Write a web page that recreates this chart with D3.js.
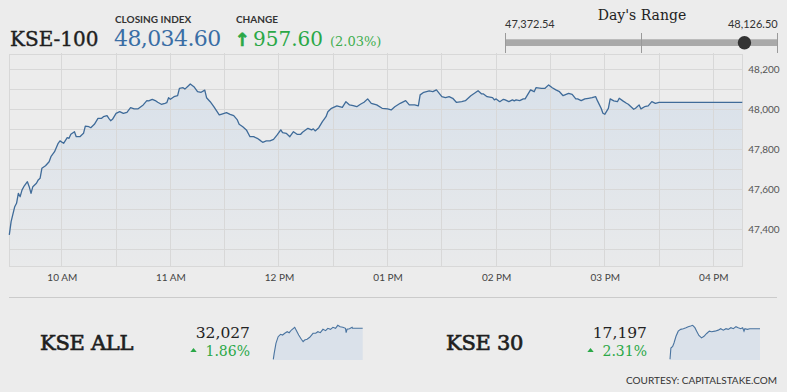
<!DOCTYPE html>
<html>
<head>
<meta charset="utf-8">
<script src="https://cdn.jsdelivr.net/npm/d3@7"></script>
<style>
	body { margin: 0; background: #ececec; }
	svg { display: block; font-family: Lato, "Open Sans", sans-serif; }
</style>
</head>
<body>
<svg width="787" height="392"></svg>
<script>
// KSE-100 intraday
const times = [
	"09:31","09:32","09:34","09:35","09:36","09:37","09:38","09:39","09:41","09:42","09:43","09:44","09:46","09:47","09:48","09:49","09:51","09:53","09:54","09:56","09:58","09:59",
	"10:01","10:03","10:04","10:05","10:07","10:08","10:10","10:12","10:13","10:15","10:16","10:18","10:20","10:22","10:23","10:25","10:26","10:27","10:28","10:30","10:32","10:34","10:36","10:38","10:40","10:42","10:45","10:47","10:48","10:50","10:52","10:53","10:55","10:57","10:58","10:59",
	"11:00","11:02","11:04","11:05","11:07","11:08","11:10","11:11","11:13","11:15","11:17","11:19","11:20","11:22","11:24","11:27","11:28","11:31","11:33","11:35","11:37","11:38","11:40","11:42","11:44","11:46","11:48","11:50","11:51","11:53","11:55","11:57","11:59",
	"12:01","12:02","12:04","12:06","12:08","12:10","12:12","12:13","12:16","12:18","12:19","12:20","12:22","12:24","12:26","12:27","12:29","12:32","12:35","12:37","12:39","12:41","12:43","12:45","12:47","12:49","12:51","12:54","12:57",
	"13:00","13:02","13:04","13:07","13:10","13:12","13:15","13:17","13:18","13:20","13:23","13:25","13:27","13:30","13:32","13:34","13:36","13:38","13:41","13:43","13:46","13:48","13:50","13:52","13:53","13:55","13:58","13:59",
	"14:00","14:02","14:04","14:05","14:07","14:09","14:10","14:11","14:13","14:15","14:16","14:19","14:21","14:22","14:25","14:27","14:29","14:31","14:33","14:35","14:37","14:38","14:40","14:42","14:44","14:45","14:47","14:49","14:51","14:53","14:55","14:56","14:58","14:59",
	"15:00","15:02","15:03","15:05","15:07","15:08","15:10","15:12","15:13","15:16","15:17","15:19","15:20","15:22","15:24","15:26","15:28","15:30","16:16"
];
const values = [
	47372.5,47438,47513,47530,47580,47563,47596,47613,47638,47613,47580,47613,47630,47647,47655,47705,47718,47738,47763,47788,47830,47842,
	47830,47858,47855,47875,47888,47863,47863,47880,47916,47913,47908,47925,47955,47955,47963,47968,47955,47943,47950,47980,47988,47980,47985,48008,48002,48002,48022,48043,48042,48050,48042,48035,48025,48030,48033,48058,
	48050,48063,48068,48105,48108,48101,48118,48126.5,48113,48088,48085,48096,48058,48038,48013,47972,47975,47983,47975,47968,47947,47925,47913,47897,47863,47863,47855,47842,47835,47842,47842,47850,47872,
	47897,47883,47880,47863,47888,47875,47875,47885,47905,47897,47902,47892,47908,47938,47963,47988,48005,48017,48010,48038,48022,48018,48013,48025,48035,48052,48030,48022,48005,
	48002,47997,48013,48030,48043,48022,48022,48017,48072,48085,48092,48088,48097,48063,48058,48063,48055,48035,48038,48043,48068,48080,48093,48077,48077,48063,48058,48047,
	48052,48038,48050,48047,48038,48047,48042,48047,48043,48052,48052,48097,48088,48108,48105,48105,48122,48108,48097,48088,48068,48072,48080,48075,48052,48052,48043,48052,48055,48058,48063,48042,48005,47980,
	47975,48005,48052,48042,48038,48055,48042,48030,48025,48000,48005,48022,48002,48013,48017,48038,48030,48034.6,48034.6
];

const timeDomain = ["09:31", "16:16"];
const valueDomain = [47216.5, 48276.5];
const hourTicks = ["10:00","11:00","12:00","13:00","14:00","15:00","16:00"];
const hourLabels = ["10 AM","11 AM","12 PM","01 PM","02 PM","03 PM","04 PM"];
const yTicks = [47400, 47600, 47800, 48000, 48200];

const closingIndex = 48034.60;
const change = 957.60;
const changePct = 2.03;
const dayLow = 47372.54;
const dayHigh = 48126.50;

// small indices with sparklines
const allTimes = ["09:31","09:35","09:43","09:53","10:04","10:13","10:23","10:34","10:43","10:53","11:08","11:16","11:26","11:38","11:46","11:53","12:04","12:16","12:31","12:43","12:53","13:04","13:16","13:28","13:38","13:50","14:01","14:13","14:23","14:34","14:46","14:58","15:01","15:05","15:16","15:28","15:30","16:16"];
const allValues = [31469,31577,31757,31876,31919,31906,31937,31966,31948,31996,32045,31984,31906,31829,31786,31816,31829,31865,31937,31937,31966,31948,32009,31984,32027,32009,32045,32027,32081,32056,32045,32027,31948,32009,32020,32045,32027,32027];
const k30Times = ["09:31","09:35","09:43","09:49","09:58","10:08","10:19","10:31","10:43","10:53","11:04","11:13","11:23","11:31","11:41","11:53","12:04","12:16","12:28","12:38","12:53","13:08","13:19","13:31","13:43","13:53","14:05","14:16","14:28","14:38","14:49","14:58","15:04","15:08","15:19","15:30","16:16"];
const k30Values = [16837,16969,16988,17029,17108,17168,17189,17197,17209,17221,17228,17237,17209,17168,17117,17089,17108,17141,17168,17161,17168,17180,17197,17180,17197,17189,17209,17197,17221,17209,17197,17209,17168,17197,17189,17197,17197];

const parseTime = d3.timeParse("%H:%M");
const fmt = d3.format(",.2f");
const green = "#2aa847";
const lineBlue = "#3f6b99";

let svg = d3.select("svg");

let defs = svg.append("defs");
let grad = defs.append("linearGradient")
	.attr("id", "areaFill")
	.attr("x1", 0).attr("y1", 0).attr("x2", 0).attr("y2", 1);
grad.append("stop").attr("offset", "0%").attr("stop-color", "#d9e1ea");
grad.append("stop").attr("offset", "100%").attr("stop-color", "#e9eaeb");

// ---- main chart
const plotLeft = 9.3, plotRight = 742.3, plotTop = 54, plotBottom = 266;

let xScale = d3.scaleTime()
	.domain(timeDomain.map(parseTime))
	.range([plotLeft, plotRight]);

let yScale = d3.scaleLinear()
	.domain(valueDomain)
	.range([plotBottom, plotTop]);

let data = times.map((t, i) => ({ t: parseTime(t), v: values[i] }));

let area = d3.area()
	.x(d => xScale(d.t))
	.y0(plotBottom)
	.y1(d => yScale(d.v));

let line = d3.line()
	.x(d => xScale(d.t))
	.y(d => yScale(d.v));

svg.append("path")
	.datum(data)
	.attr("d", area)
	.attr("fill", "url(#areaFill)");

// grid
let grid = svg.append("g")
	.attr("stroke", "#d8d8d8")
	.attr("stroke-width", 1)
	.attr("shape-rendering", "crispEdges");

grid.selectAll(".hgrid")
	.data(d3.range(47300, 48201, 100))
	.enter()
	.append("line")
		.attr("x1", plotLeft).attr("x2", plotRight)
		.attr("y1", d => yScale(d)).attr("y2", d => yScale(d));

grid.selectAll(".vgrid")
	.data(xScale.ticks(d3.timeMinute.every(30)))
	.enter()
	.append("line")
		.attr("x1", d => xScale(d)).attr("x2", d => xScale(d))
		.attr("y1", plotTop - 1).attr("y2", plotBottom);

// plot border
grid.append("rect")
	.attr("x", plotLeft).attr("y", plotTop)
	.attr("width", plotRight - plotLeft).attr("height", plotBottom - plotTop)
	.attr("fill", "none");

svg.append("path")
	.datum(data)
	.attr("d", line)
	.attr("fill", "none")
	.attr("stroke", lineBlue)
	.attr("stroke-width", 1.3)
	.attr("stroke-linejoin", "round");

// x axis labels
let xAxis = d3.axisBottom(xScale)
	.tickValues(hourTicks.map(parseTime))
	.tickFormat((d, i) => hourLabels[i])
	.tickSize(0)
	.tickPadding(8);

svg.append("g")
	.attr("transform", `translate(0, ${plotBottom})`)
	.call(xAxis)
	.call(g => g.select(".domain").remove())
	.selectAll("text")
		.attr("font-family", "Lato, sans-serif")
		.attr("font-size", 10)
		.attr("fill", "#444");

// y axis labels
let yAxis = d3.axisRight(yScale)
	.tickValues(yTicks)
	.tickFormat(d3.format(","))
	.tickSize(0)
	.tickPadding(6);

svg.append("g")
	.attr("transform", `translate(${plotRight}, 0)`)
	.call(yAxis)
	.call(g => g.select(".domain").remove())
	.selectAll("text")
		.attr("font-family", "Lato, sans-serif")
		.attr("font-size", 10)
		.attr("fill", "#555");

// separator under the chart
svg.append("line")
	.attr("x1", 9).attr("x2", 777)
	.attr("y1", 297.5).attr("y2", 297.5)
	.attr("stroke", "#cbcbcb");

// ---- header
const serif = "'DejaVu Serif', serif";

svg.append("text")
	.attr("x", 10).attr("y", 46)
	.attr("font-family", serif).attr("font-size", 20)
	.attr("fill", "#1f1f1f")
	.attr("stroke", "#1f1f1f").attr("stroke-width", 0.4)
	.text("KSE-100");

svg.append("text")
	.attr("x", 115).attr("y", 23)
	.attr("font-size", 10).attr("font-weight", 700)
	.attr("fill", "#333")
	.text("CLOSING INDEX");

svg.append("text")
	.attr("x", 114).attr("y", 46)
	.attr("font-family", serif).attr("font-size", 22)
	.attr("letter-spacing", -0.6)
	.attr("fill", "#3a6ea5")
	.text(fmt(closingIndex));

svg.append("text")
	.attr("x", 236).attr("y", 23)
	.attr("font-size", 10).attr("font-weight", 700)
	.attr("fill", "#333")
	.text("CHANGE");

svg.append("text")
	.attr("x", 234.5).attr("y", 46)
	.attr("font-family", "'DejaVu Sans', sans-serif").attr("font-size", 18).attr("font-weight", 700)
	.attr("fill", green)
	.attr("stroke", green).attr("stroke-width", 0.6)
	.text("↑");

svg.append("text")
	.attr("x", 253).attr("y", 46)
	.attr("font-family", serif).attr("font-size", 20)
	.attr("fill", green)
	.text(fmt(change));

svg.append("text")
	.attr("x", 330).attr("y", 46)
	.attr("font-family", serif).attr("font-size", 13)
	.attr("fill", "#3fae4f")
	.text(`(${changePct.toFixed(2)}%)`);

// ---- day's range
let rScale = d3.scaleLinear()
	.domain([dayLow, dayHigh])
	.range([505, 777.7]);

svg.append("text")
	.attr("x", 642).attr("y", 20)
	.attr("text-anchor", "middle")
	.attr("font-family", serif).attr("font-size", 14)
	.attr("fill", "#222")
	.text("Day's Range");

svg.append("text")
	.attr("x", rScale(dayLow)).attr("y", 28)
	.attr("font-size", 11).attr("fill", "#333")
	.text(fmt(dayLow));

svg.append("text")
	.attr("x", rScale(dayHigh)).attr("y", 28)
	.attr("text-anchor", "end")
	.attr("font-size", 11).attr("fill", "#333")
	.text(fmt(dayHigh));

svg.append("rect")
	.attr("x", rScale(dayLow)).attr("y", 39.3)
	.attr("width", rScale(dayHigh) - rScale(dayLow)).attr("height", 6.7)
	.attr("fill", "#a9a9a9");

svg.selectAll(".rtick")
	.data([dayLow, (dayLow + dayHigh) / 2, dayHigh])
	.enter()
	.append("line")
		.attr("x1", d => rScale(d)).attr("x2", d => rScale(d))
		.attr("y1", 32.5).attr("y2", 52.5)
		.attr("stroke", "#9a9a9a")
		.attr("shape-rendering", "crispEdges");

svg.append("circle")
	.attr("cx", rScale(closingIndex)).attr("cy", 42.7)
	.attr("r", 6.7)
	.attr("fill", "#333");

// ---- small indices
function drawSpark(tms, vals, x0, x1, yTop, yBot) {
	let sx = d3.scaleTime().domain(timeDomain.map(parseTime)).range([x0, x1]);
	let sy = d3.scaleLinear().domain(d3.extent(vals)).range([yBot - 0.7, yTop]);
	let pts = tms.map((t, i) => ({ t: parseTime(t), v: vals[i] }));
	svg.append("path")
		.datum(pts)
		.attr("d", d3.area().x(d => sx(d.t)).y0(yBot).y1(d => sy(d.v)))
		.attr("fill", "#dae1ea");
	svg.append("path")
		.datum(pts)
		.attr("d", d3.line().x(d => sx(d.t)).y(d => sy(d.v)))
		.attr("fill", "none")
		.attr("stroke", "#4a74a0")
		.attr("stroke-width", 1.1);
}

function drawIndex(name, nameX, valueX, last, pct, tms, vals, sx0, sx1) {
	svg.append("text")
		.attr("x", nameX).attr("y", 350)
		.attr("font-family", serif).attr("font-size", 21)
		.attr("letter-spacing", -0.3)
		.attr("fill", "#1f1f1f")
		.attr("stroke", "#1f1f1f").attr("stroke-width", 0.7)
		.text(name);
	svg.append("text")
		.attr("x", valueX).attr("y", 338)
		.attr("text-anchor", "end")
		.attr("font-family", serif).attr("font-size", 15.5)
		.attr("fill", "#222")
		.text(d3.format(",")(last));
	let pctText = svg.append("text")
		.attr("x", valueX).attr("y", 355.5)
		.attr("text-anchor", "end")
		.attr("font-family", serif).attr("font-size", 14)
		.attr("fill", green)
		.text(pct.toFixed(2) + "%");
	let w = pctText.node().getComputedTextLength();
	let tx = valueX - w - 12;
	svg.append("path")
		.attr("d", `M${tx - 3.2},${352} L${tx + 3.2},${352} L${tx},${348} Z`)
		.attr("fill", green);
	drawSpark(tms, vals, sx0, sx1, 325.3, 360);
}

drawIndex("KSE ALL", 40, 250, 32027, 1.86, allTimes, allValues, 273.3, 362.7);
drawIndex("KSE 30", 446, 647, 17197, 2.31, k30Times, k30Values, 670, 760);

svg.append("text")
	.attr("x", 777).attr("y", 383.5)
	.attr("text-anchor", "end")
	.attr("font-size", 10)
	.attr("fill", "#333")
	.text("COURTESY: CAPITALSTAKE.COM");
</script>
</body>
</html>
